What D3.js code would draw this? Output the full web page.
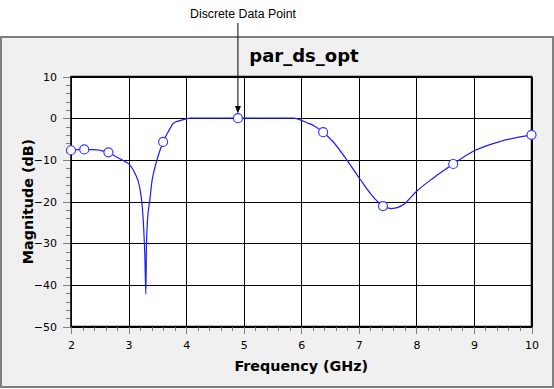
<!DOCTYPE html>
<html>
<head>
<meta charset="utf-8">
<script src="https://cdn.jsdelivr.net/npm/d3@7"></script>
<style>
  body { margin: 0; background: #fff; }
  svg { display: block; }
  .tick-label { font-family: "DejaVu Sans", sans-serif; font-size: 11px; fill: #000; }
</style>
</head>
<body>
<div id="chart"></div>
<script>
const width = 554;
const height = 389;

// curve samples (GHz, dB)
const curveFreq = [2.0, 2.1, 2.23, 2.35, 2.5, 2.65, 2.75, 2.86, 2.95, 3.02, 3.11, 3.19, 3.24, 3.265, 3.285, 3.30,
  3.31, 3.33, 3.37, 3.41, 3.44, 3.52, 3.60, 3.70, 3.78, 3.89, 4.0, 4.07, 4.5, 4.9, 5.5, 5.86, 5.98, 6.1, 6.22,
  6.38, 6.55, 6.79, 7.02, 7.22, 7.42, 7.57, 7.77, 8.0, 8.29, 8.64, 8.98, 9.45, 10.0];
const curveMag = [-7.7, -7.55, -7.5, -7.55, -7.7, -8.2, -9.0, -9.8, -10.5, -11.2, -13.2, -16.4, -21.5, -27, -34, -42.2,
  -31, -24.4, -19.6, -14.8, -12.8, -8.8, -5.7, -3.0, -1.2, -0.6, -0.15, 0, 0, 0, 0, 0, -0.4, -1.1, -1.8,
  -3.36, -5.6, -10, -14.6, -18.4, -21.1, -21.7, -20.8, -17.6, -14.4, -11.0, -8.0, -5.6, -4.0];

// discrete data points
const pointFreq = [2.0, 2.23, 2.65, 3.60, 4.90, 6.38, 7.42, 8.64, 10.0];
const pointMag = [-7.7, -7.5, -8.2, -5.7, 0, -3.36, -21.1, -11.0, -4.0];

const xTicks = [2, 3, 4, 5, 6, 7, 8, 9, 10];
const yTicks = [10, 0, -10, -20, -30, -40, -50];

const plot = { left: 71, right: 531.5, top: 76.5, bottom: 326.5 };

const svg = d3.select('#chart')
  .append('svg')
  .attr('width', width)
  .attr('height', height);

// grey panel
svg.append('rect')
  .attr('x', 1).attr('y', 37)
  .attr('width', 552).attr('height', 350)
  .attr('fill', '#f0f0f0')
  .attr('stroke', '#7f7f7f')
  .attr('stroke-width', 2);

const xScale = d3.scaleLinear().domain([2, 10]).range([plot.left, plot.right]);
const yScale = d3.scaleLinear().domain([-50, 10]).range([plot.bottom, plot.top]);

// plot background
svg.append('rect')
  .attr('x', plot.left).attr('y', plot.top)
  .attr('width', plot.right - plot.left).attr('height', plot.bottom - plot.top)
  .attr('fill', '#fff');

// grid
svg.append('g')
  .attr('transform', `translate(0,${plot.bottom})`)
  .call(d3.axisBottom(xScale).tickValues(xTicks).tickSize(-(plot.bottom - plot.top)).tickFormat(''))
  .call(g => g.select('.domain').remove())
  .call(g => g.selectAll('line').attr('stroke', '#000').attr('shape-rendering', 'crispEdges'));

svg.append('g')
  .attr('transform', `translate(${plot.left},0)`)
  .call(d3.axisLeft(yScale).tickValues(yTicks).tickSize(-(plot.right - plot.left)).tickFormat(''))
  .call(g => g.select('.domain').remove())
  .call(g => g.selectAll('line').attr('stroke', '#000').attr('shape-rendering', 'crispEdges'));

// minor ticks
const xMinor = d3.range(2, 10.001, 0.2);
const yMinor = d3.range(-50, 10.001, 2);

svg.append('g')
  .attr('transform', `translate(0,${plot.bottom})`)
  .call(d3.axisBottom(xScale).tickValues(xMinor).tickSize(4).tickFormat(''))
  .call(g => g.select('.domain').remove())
  .call(g => g.selectAll('line').attr('stroke', '#808080').attr('shape-rendering', 'crispEdges'));

svg.append('g')
  .attr('transform', `translate(${plot.left},0)`)
  .call(d3.axisLeft(yScale).tickValues(yMinor).tickSize(5).tickFormat(''))
  .call(g => g.select('.domain').remove())
  .call(g => g.selectAll('line').attr('stroke', '#808080').attr('shape-rendering', 'crispEdges'));

// major ticks + labels
const xAxis = svg.append('g')
  .attr('transform', `translate(0,${plot.bottom})`)
  .call(d3.axisBottom(xScale).tickValues(xTicks).tickSize(7).tickPadding(8).tickFormat(d3.format('d')))
  .call(g => g.select('.domain').remove());
xAxis.selectAll('line').attr('stroke', '#808080').attr('shape-rendering', 'crispEdges');
xAxis.selectAll('text').attr('class', 'tick-label');

const yAxis = svg.append('g')
  .attr('transform', `translate(${plot.left},0)`)
  .call(d3.axisLeft(yScale).tickValues(yTicks).tickSize(8).tickPadding(6).tickFormat(d3.format('d')))
  .call(g => g.select('.domain').remove());
yAxis.selectAll('line').attr('stroke', '#808080').attr('shape-rendering', 'crispEdges');
yAxis.selectAll('text').attr('class', 'tick-label');

// plot frame
svg.append('rect')
  .attr('x', plot.left).attr('y', plot.top)
  .attr('width', plot.right - plot.left).attr('height', plot.bottom - plot.top)
  .attr('fill', 'none')
  .attr('stroke', '#000')
  .attr('stroke-width', 1.5);

// curve
const line = d3.line()
  .x((d, i) => xScale(curveFreq[i]))
  .y(d => yScale(d))
  .curve(d3.curveMonotoneX);

svg.append('path')
  .datum(curveMag)
  .attr('d', line)
  .attr('fill', 'none')
  .attr('stroke', '#1a1aff')
  .attr('stroke-width', 1.2);

svg.selectAll('.pt')
  .data(pointMag)
  .join('circle')
    .attr('class', 'pt')
    .attr('cx', (d, i) => xScale(pointFreq[i]))
    .attr('cy', d => yScale(d))
    .attr('r', 4.5)
    .attr('fill', '#fff')
    .attr('stroke', '#3a3aff')
    .attr('stroke-width', 1.2);

// title
svg.append('text')
  .text('par_ds_opt')
  .attr('x', 304)
  .attr('y', 62)
  .attr('text-anchor', 'middle')
  .attr('font-family', '"DejaVu Sans", sans-serif')
  .attr('font-weight', 'bold')
  .attr('font-size', '18px');

// axis titles
svg.append('text')
  .text('Frequency (GHz)')
  .attr('x', (plot.left + plot.right) / 2)
  .attr('y', 371)
  .attr('text-anchor', 'middle')
  .attr('font-family', '"DejaVu Sans", sans-serif')
  .attr('font-weight', 'bold')
  .attr('font-size', '14.3px');

svg.append('text')
  .text('Magnitude (dB)')
  .attr('transform', 'rotate(-90)')
  .attr('x', -(plot.top + plot.bottom) / 2)
  .attr('y', 33)
  .attr('text-anchor', 'middle')
  .attr('font-family', '"DejaVu Sans", sans-serif')
  .attr('font-weight', 'bold')
  .attr('font-size', '14.3px');

// annotation
const annX = xScale(pointFreq[4]);
svg.append('text')
  .text('Discrete Data Point')
  .attr('x', 243)
  .attr('y', 18)
  .attr('text-anchor', 'middle')
  .attr('font-family', '"Liberation Sans", Arial, sans-serif')
  .attr('font-size', '12.3px');

svg.append('line')
  .attr('x1', annX).attr('x2', annX)
  .attr('y1', 23).attr('y2', 110)
  .attr('stroke', '#000')
  .attr('stroke-width', 1);

svg.append('path')
  .attr('d', `M${annX - 3},${106} L${annX + 3},${106} L${annX},${113.5} Z`)
  .attr('fill', '#000');
</script>
</body>
</html>
